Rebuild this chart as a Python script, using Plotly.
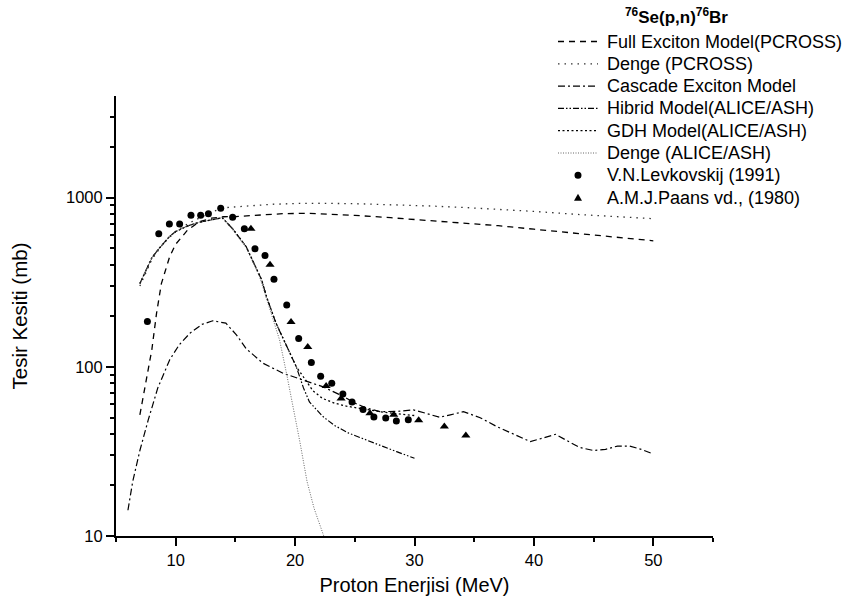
import plotly.graph_objects as go

# ---- model calculations: proton energy (MeV) vs cross section (mb) ----
fem_x = [7, 7.4, 8, 8.4, 8.8, 9.5, 10, 11, 12, 13, 14, 15, 17, 19, 21, 23,
         25, 28, 31, 34, 37, 40, 44, 47, 50]
fem_y = [52, 73, 126, 208, 310, 448, 530, 643, 720, 755, 770, 772, 790, 803,
         807, 800, 785, 760, 735, 710, 682, 650, 610, 580, 555]

dp_x = [7, 8, 9, 10, 11, 12, 13, 14, 16, 18, 20, 22, 25, 28, 31, 34, 37,
        40, 44, 47, 50]
dp_y = [300, 430, 540, 630, 700, 760, 820, 870, 895, 912, 922, 925, 920,
        908, 893, 875, 853, 828, 792, 770, 750]

cem_x = [6, 6.4, 7, 7.7, 8.5, 9.5, 10.3, 11.2, 12.2, 13.1, 14.2, 15.1, 15.9,
         17.3, 19, 20.7, 22.3, 24, 25, 26, 27.1, 28.5, 29.9, 31, 32.1, 33,
         34.1, 35.5, 36.9, 38.3, 39.7, 40.8, 41.8, 42.8, 43.8, 45, 46, 47,
         48, 49, 50]
cem_y = [14.2, 21, 32, 48.5, 75, 110, 135, 158, 178, 187, 181, 154, 128,
         105, 91.5, 83.6, 76.3, 67, 61, 57, 54.3, 54.5, 55.6, 53, 50.3, 52,
         54.3, 50, 44.3, 40, 36.1, 38, 39.9, 36.5, 33.4, 32, 32.5, 34, 34,
         32.5, 30.5]

hyb_x = [7, 7.5, 8, 8.5, 9, 9.5, 10, 11, 12, 13, 13.9, 14.8, 15.9, 17.2,
         17.6, 18.4, 19.3, 20.1, 20.7, 21.2, 22.3, 23.3, 24.5, 25.7, 27.1,
         28.5, 30]
hyb_y = [310, 370, 440, 490, 540, 590, 630, 680, 715, 740, 760, 650, 513,
         326, 260, 181, 131, 100, 75, 62, 51, 45, 40.5, 37.5, 34.5, 31.5, 28.8]

gdh_x = [7, 7.5, 8, 8.5, 9, 9.5, 10, 11, 12, 13, 13.9, 14.8, 15.9, 17.2,
         17.6, 18.4, 19.3, 20.1, 20.7, 21.5, 22.3, 23.3, 24.3, 25.5, 27.1,
         28.5, 30]
gdh_y = [310, 370, 440, 490, 540, 590, 630, 680, 715, 740, 760, 650, 513,
         326, 260, 181, 131, 100, 87, 72, 65, 61, 58.5, 56.5, 54.3, 52.8, 51.5]

da_x = [7, 7.5, 8, 8.5, 9, 9.5, 10, 11, 12, 13, 13.9, 14.8, 15.9, 17, 17.9,
        18.7, 19.3, 19.8, 20.4, 21, 21.6, 22.4]
da_y = [310, 370, 440, 490, 540, 590, 630, 680, 715, 740, 765, 640, 505,
        345, 215, 144, 90, 60, 36, 21, 14.5, 10]

# ---- experimental data ----
lev_x = [7.63, 8.58, 9.47, 10.33, 11.28, 12.09, 12.74, 13.77, 14.77, 15.75,
         16.64, 17.48, 18.23, 19.3, 20.3, 21.36, 22.14, 23.07, 24.0, 24.77,
         25.69, 26.6, 27.59, 28.48, 29.48]
lev_y = [185, 612, 698, 698, 786, 786, 803, 865, 765, 655, 499, 454, 329,
         232, 147, 106, 88, 80, 69, 62, 56, 50.5, 49.8, 47.8, 48.7]

paa_x = [16.3, 17.9, 19.66, 21.06, 22.6, 23.85, 26.27, 28.26, 30.35, 32.5, 34.3]
paa_y = [655, 401, 184, 131, 77, 65, 53.1, 52.1, 48.3, 44.3, 39.2]

# ---- labels ----
names = [
    "Full Exciton Model(PCROSS)",
    "Denge (PCROSS)",
    "Cascade Exciton Model",
    "Hibrid Model(ALICE/ASH)",
    "GDH Model(ALICE/ASH)",
    "Denge (ALICE/ASH)",
    "V.N.Levkovskij (1991)",
    "A.M.J.Paans vd., (1980)",
]
legend_title = "<b><sup>76</sup>Se(p,n)<sup>76</sup>Br</b>"
x_title = "Proton Enerjisi (MeV)"
y_title = "Tesir Kesiti (mb)"
x_ticks = [10, 20, 30, 40, 50]
y_ticks = [10, 100, 1000]
y_ticktext = ["10", "100", "1000"]

FONT = "Liberation Sans, Arial, sans-serif"
W, H = 848, 608
ML, MR, MT, MB = 116, 135, 96, 72
PW, PH = W - ML - MR, H - MT - MB


def px_to_paper_x(px):
    return (px - ML) / PW


def px_to_paper_y(py):
    return (H - MB - py) / PH


line_styles = [
    dict(color="black", width=1.3, dash="6px,5px"),
    dict(color="#333", width=1.3, dash="1.5px,5px"),
    dict(color="black", width=1.2, dash="7px,3px,2px,3px"),
    dict(color="black", width=1.2, dash="6px,2px,1.5px,2px,1.5px,2px"),
    dict(color="black", width=1.3, dash="2px,2.5px"),
    dict(color="#666", width=1.0, dash="1px,1.5px"),
]
series = [(fem_x, fem_y), (dp_x, dp_y), (cem_x, cem_y),
          (hyb_x, hyb_y), (gdh_x, gdh_y), (da_x, da_y)]

fig = go.Figure()
for (xs, ys), ln, nm in zip(series, line_styles, names[:6]):
    fig.add_trace(go.Scatter(x=xs, y=ys, mode="lines", name=nm, line=ln,
                             showlegend=False))

fig.add_trace(go.Scatter(x=lev_x, y=lev_y, mode="markers", name=names[6],
                         showlegend=False,
                         marker=dict(symbol="circle", size=7, color="black")))
fig.add_trace(go.Scatter(x=paa_x, y=paa_y, mode="markers", name=names[7],
                         showlegend=False,
                         marker=dict(symbol="triangle-up", size=8, color="black")))

# ---- key drawn beside the plot ----
annotations = [dict(
    text=legend_title, xref="paper", yref="paper",
    x=px_to_paper_x(676), y=px_to_paper_y(16), xanchor="center",
    yanchor="middle", showarrow=False,
    font=dict(family=FONT, size=17, color="black"),
)]
shapes = []
row0, step = 41.5, 22.3
for i, nm in enumerate(names):
    yp = px_to_paper_y(row0 + step * i)
    annotations.append(dict(
        text=nm, xref="paper", yref="paper", x=px_to_paper_x(605), y=yp,
        xanchor="left", yanchor="middle", showarrow=False,
        font=dict(family=FONT, size=18, color="black"),
    ))
    if i < 6:
        shapes.append(dict(type="line", xref="paper", yref="paper",
                           x0=px_to_paper_x(558), x1=px_to_paper_x(598),
                           y0=yp, y1=yp, line=line_styles[i]))
    elif i == 6:
        shapes.append(dict(type="circle", xref="paper", yref="paper",
                           xsizemode="pixel", ysizemode="pixel",
                           xanchor=px_to_paper_x(578), yanchor=yp,
                           x0=-3.5, x1=3.5, y0=-3.5, y1=3.5,
                           fillcolor="black", line=dict(width=0)))
    else:
        shapes.append(dict(type="path", xref="paper", yref="paper",
                           xsizemode="pixel", ysizemode="pixel",
                           xanchor=px_to_paper_x(578), yanchor=yp,
                           path="M-4,-3.2L4,-3.2L0,3.8Z",
                           fillcolor="black", line=dict(width=0)))

axis_common = dict(
    showline=True, linecolor="black", linewidth=2,
    ticks="outside", ticklen=8, tickwidth=1.5, tickcolor="black",
    showgrid=False, zeroline=False,
    tickfont=dict(family=FONT, size=16.5, color="black"),
)

fig.update_xaxes(
    range=[5, 55], tickmode="array", tickvals=x_ticks,
    title=dict(text=x_title, font=dict(family=FONT, size=20, color="black"),
               standoff=10),
    minor=dict(tickmode="array", tickvals=[5, 15, 25, 35, 45, 55],
               ticks="outside", ticklen=4, tickwidth=1.5, tickcolor="black",
               showgrid=False),
    **axis_common,
)
fig.update_yaxes(
    type="log", range=[1, 3.6], tickmode="array",
    tickvals=y_ticks, ticktext=y_ticktext,
    title=dict(text=y_title, font=dict(family=FONT, size=20.5, color="black"),
               standoff=33),
    minor=dict(tickmode="array",
               tickvals=[20, 30, 40, 50, 60, 70, 80, 90,
                         200, 300, 400, 500, 600, 700, 800, 900, 2000, 3000],
               ticks="outside", ticklen=4, tickwidth=1.5, tickcolor="black",
               showgrid=False),
    **axis_common,
)

fig.update_layout(
    width=W, height=H,
    margin=dict(l=ML, r=MR, t=MT, b=MB),
    paper_bgcolor="white", plot_bgcolor="white",
    font=dict(family=FONT, color="black"),
    showlegend=False,
    annotations=annotations,
    shapes=shapes,
)

fig.write_html("out.html")
